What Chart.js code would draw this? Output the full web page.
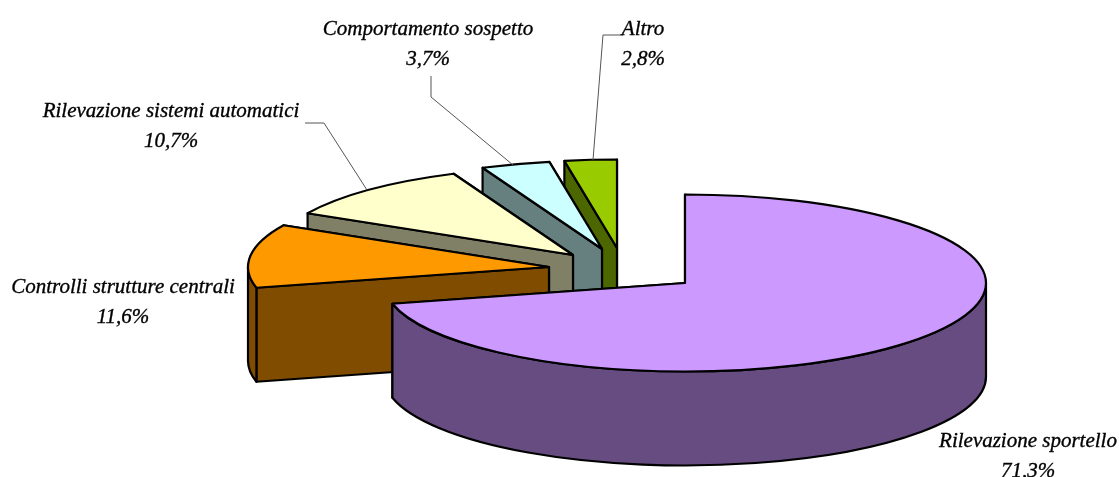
<!DOCTYPE html>
<html>
<head>
<meta charset="utf-8">
<title>Torta 3D</title>
<script src="https://cdn.jsdelivr.net/npm/chart.js@4"></script>
<style>
  html, body { margin: 0; padding: 0; background: #fff; }
  canvas { display: block; }
</style>
</head>
<body>
<canvas id="torta" width="1119" height="477"></canvas>
<script>
// dati
const categorie = ['Rilevazione sportello', 'Controlli strutture centrali', 'Rilevazione sistemi automatici', 'Comportamento sospetto', 'Altro'];
const valori = [71.3, 11.6, 10.7, 3.7, 2.8];
const coloriSopra = ['#CC99FF', '#FF9900', '#FFFFCC', '#CCFFFF', '#99CC00'];
const coloriLato = ['#664C80', '#804C00', '#808066', '#668080', '#4C6600'];

// posizione a schermo di ogni fetta (apice) e delle etichette
const apici = [[685, 283], [549, 267], [573, 255], [602, 249], [617, 248]];
const posEtichette = [[1028, 441], [123, 287], [171, 111], [428, 29], [643, 29]];
const guide = [
  null,
  null,
  [[305, 123], [324, 123], [367, 190]],
  [[431, 76], [431, 97], [513, 165]],
  [[623, 35], [603, 35], [593, 160]]
];

const RAGGIO = 301;
const SCHIACCIA = 88.5 / 301;
const SPESSORE = 94;

const torta3d = {
  id: 'torta3d',
  beforeDatasetsDraw(chart) {
    const ctx = chart.ctx;
    const arcs = chart.getDatasetMeta(0).data;
    ctx.save();
    ctx.lineJoin = 'round';
    ctx.lineWidth = 2.2;
    ctx.strokeStyle = '#000';

    // dal fondo verso il davanti
    for (let i = arcs.length - 1; i >= 0; i--) {
      const el = arcs[i];
      const { startAngle, endAngle, outerRadius } = el.getProps(['startAngle', 'endAngle', 'outerRadius']);
      const [cx, cy] = apici[i];
      const ry = outerRadius * SCHIACCIA;
      const punto = (a) => [cx + outerRadius * Math.cos(a), cy + ry * Math.sin(a)];

      // facce di taglio, prima quella piu in alto
      const facce = [startAngle, endAngle].map(punto).sort((p, q) => p[1] - q[1]);
      ctx.fillStyle = coloriLato[i];
      for (const p of facce) {
        ctx.beginPath();
        ctx.moveTo(cx, cy);
        ctx.lineTo(p[0], p[1]);
        ctx.lineTo(p[0], p[1] + SPESSORE);
        ctx.lineTo(cx, cy + SPESSORE);
        ctx.closePath();
        ctx.fill();
        ctx.stroke();
      }

      // parete esterna, solo la parte rivolta verso chi guarda
      const a0 = Math.max(startAngle, 0);
      const a1 = Math.min(endAngle, Math.PI);
      if (a1 > a0) {
        ctx.beginPath();
        ctx.ellipse(cx, cy, outerRadius, ry, 0, a0, a1);
        ctx.ellipse(cx, cy + SPESSORE, outerRadius, ry, 0, a1, a0, true);
        ctx.closePath();
        ctx.fill();
        ctx.stroke();
      }

      // faccia superiore: la disegna l'arco di Chart.js, schiacciato
      ctx.save();
      ctx.translate(cx, cy);
      ctx.scale(1, SCHIACCIA);
      ctx.translate(-el.x, -el.y);
      el.draw(ctx, chart.chartArea);
      ctx.restore();

      ctx.beginPath();
      ctx.moveTo(cx, cy);
      ctx.ellipse(cx, cy, outerRadius, ry, 0, startAngle, endAngle);
      ctx.closePath();
      ctx.stroke();
    }
    ctx.restore();
    return false;
  },
  afterDraw(chart) {
    const ctx = chart.ctx;
    ctx.save();
    ctx.strokeStyle = '#555';
    ctx.lineWidth = 1;
    guide.forEach((g) => {
      if (!g) return;
      ctx.beginPath();
      g.forEach((p, k) => (k ? ctx.lineTo(p[0], p[1]) : ctx.moveTo(p[0], p[1])));
      ctx.stroke();
    });
    ctx.fillStyle = '#000';
    ctx.strokeStyle = '#000';
    ctx.lineWidth = 0.35;
    ctx.textAlign = 'center';
    ctx.textBaseline = 'middle';
    ctx.font = 'italic 21px "Liberation Serif"';
    const scrivi = (testo, x, y) => {
      ctx.fillText(testo, x, y);
      ctx.strokeText(testo, x, y);
    };
    categorie.forEach((nome, i) => {
      const [x, y] = posEtichette[i];
      scrivi(nome, x, y);
      scrivi(valori[i].toFixed(1).replace('.', ',') + '%', x, y + 30);
    });
    ctx.restore();
  }
};

new Chart(document.getElementById('torta'), {
  type: 'pie',
  data: {
    labels: categorie,
    datasets: [{
      data: valori,
      backgroundColor: coloriSopra,
      borderWidth: 0
    }]
  },
  options: {
    responsive: false,
    animation: false,
    radius: RAGGIO,
    plugins: {
      legend: { display: false },
      tooltip: { enabled: false }
    }
  },
  plugins: [torta3d]
});
</script>
</body>
</html>
